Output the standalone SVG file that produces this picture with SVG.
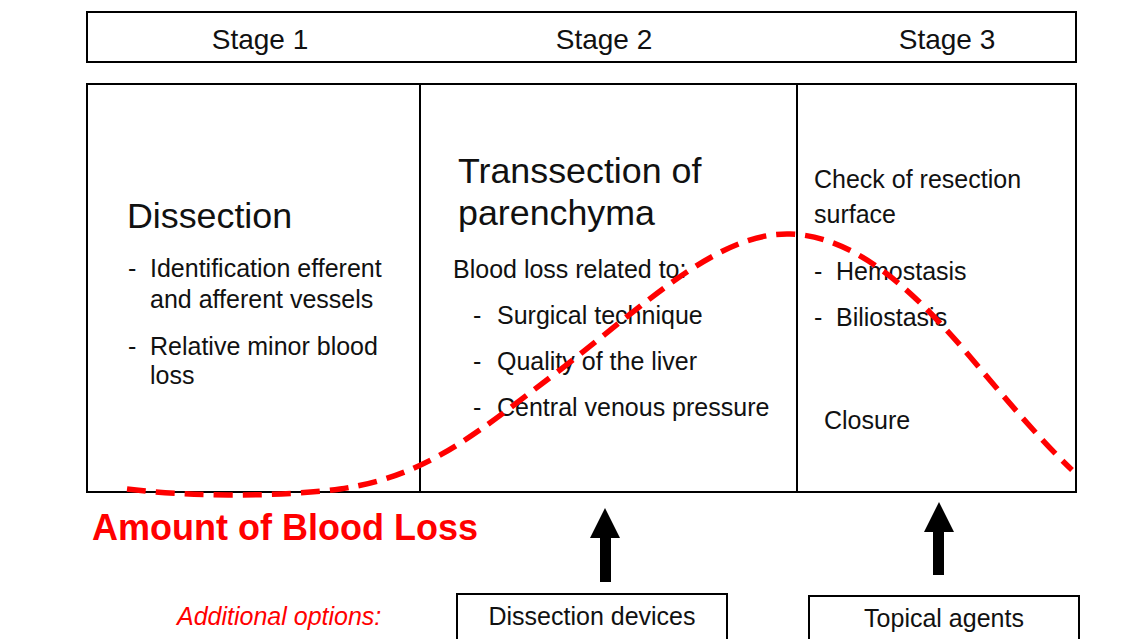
<svg xmlns="http://www.w3.org/2000/svg" width="1140" height="639" viewBox="0 0 1140 639">
<defs>
<style>
.box{fill:#fff;stroke:#000;stroke-width:2}
.t{font-family:"Liberation Sans",Arial,sans-serif;fill:#111}
.s{font-size:28px}
.h{font-size:35.8px}
.b{font-size:25px}
.red{fill:#ff0000}
.curve{fill:none;stroke:#ff0000;stroke-width:5.5;stroke-dasharray:19 10}
</style>
</defs>
<rect width="1140" height="639" fill="#fff"/>
<g id="stages">
<rect class="box" x="87" y="12" width="989" height="50"/>
<text class="t s" x="260" y="49" text-anchor="middle">Stage 1</text>
<text class="t s" x="604" y="49" text-anchor="middle">Stage 2</text>
<text class="t s" x="947" y="49" text-anchor="middle">Stage 3</text>
</g>
<g id="stage1">
<rect class="box" x="87" y="84" width="333" height="408"/>
<text class="t h" x="127" y="228">Dissection</text>
<text class="t b" x="128" y="277">-</text>
<text class="t b" x="150" y="277">Identification efferent</text>
<text class="t b" x="150" y="308">and afferent vessels</text>
<text class="t b" x="128" y="355">-</text>
<text class="t b" x="150" y="355">Relative minor blood</text>
<text class="t b" x="150" y="384">loss</text>
</g>
<g id="stage2">
<rect class="box" x="420" y="84" width="377" height="408"/>
<text class="t h" x="458" y="183">Transsection of</text>
<text class="t h" x="458" y="225">parenchyma</text>
<text class="t b" x="453" y="278">Blood loss related to:</text>
<text class="t b" x="473" y="324">-</text>
<text class="t b" x="497" y="324">Surgical technique</text>
<text class="t b" x="473" y="370">-</text>
<text class="t b" x="497" y="370">Quality of the liver</text>
<text class="t b" x="473" y="416">-</text>
<text class="t b" x="497" y="416">Central venous pressure</text>
</g>
<g id="stage3">
<rect class="box" x="797" y="84" width="279" height="408"/>
<text class="t b" x="814" y="188">Check of resection</text>
<text class="t b" x="814" y="223">surface</text>
<text class="t b" x="814" y="280">-</text>
<text class="t b" x="836" y="280">Hemostasis</text>
<text class="t b" x="814" y="326">-</text>
<text class="t b" x="836" y="326">Biliostasis</text>
<text class="t b" x="824" y="429">Closure</text>
</g>
<g id="connectors">
<path class="curve" d="M127,489 C190,497 280,497 340,489 C430,476 480,430 560,370 C650,300 720,232 790,234 C860,236 920,300 960,345 C1000,392 1040,440 1072,470"/>
<path d="M605,508 L620,538 L611,538 L611,582 L600,582 L600,538 L590,538 Z" fill="#000"/>
<path d="M939,502 L954,532 L944,532 L944,575 L933,575 L933,532 L924,532 Z" fill="#000"/>
</g>
<g id="legend">
<text class="t red" x="92" y="540" font-size="36" font-weight="bold">Amount of Blood Loss</text>
<text class="t red" x="177" y="625" font-size="25" font-style="italic">Additional options:</text>
</g>
<g id="devices">
<rect class="box" x="457" y="594" width="270" height="50"/>
<text class="t b" x="592" y="625" text-anchor="middle">Dissection devices</text>
</g>
<g id="agents">
<rect class="box" x="809" y="596" width="270" height="50"/>
<text class="t b" x="944" y="627" text-anchor="middle">Topical agents</text>
</g>
</svg>
